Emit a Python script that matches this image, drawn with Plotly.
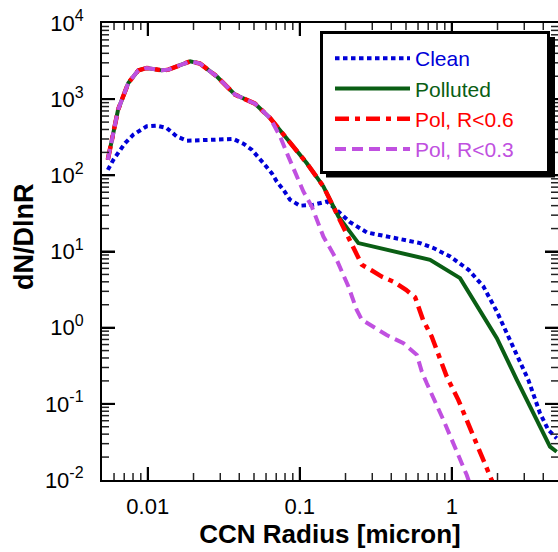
import math
import plotly.graph_objects as go

# ---- data ----
radius_clean = [0.00546, 0.00594, 0.0071, 0.00804, 0.00985, 0.01146, 0.0133, 0.0155, 0.0181, 0.0257,
                0.0366, 0.0426, 0.0483, 0.0576, 0.0654, 0.0706, 0.078, 0.0863, 0.1005, 0.123, 0.151,
                0.184, 0.214, 0.276, 0.393, 0.618, 0.757, 0.975, 1.29, 1.615, 1.98, 2.42, 2.81, 3.19,
                3.81, 4.32, 4.9]
dn_clean = [118, 160, 266, 342, 440, 449, 419, 324, 285, 288,
            300, 260, 217, 145, 107, 83, 64.7, 47.8, 39.9, 41.1, 45.4,
            32, 24.3, 17.8, 15.5, 12.9, 11.1, 8.6, 5.75, 3.47, 1.63, 0.69, 0.358, 0.206,
            0.075, 0.0454, 0.0353]

radius_pol = [0.00546, 0.00638, 0.00745, 0.00867, 0.00985, 0.01236, 0.01367, 0.0155, 0.019, 0.0221,
              0.0284, 0.0375, 0.0448, 0.0508, 0.0638, 0.0864, 0.111, 0.143, 0.1795, 0.243, 0.393,
              0.559, 0.72, 1.134, 1.536, 1.98, 2.68, 3.11, 4.43, 4.9]
dn_pol = [160, 728, 1633, 2390, 2570, 2390, 2440, 2700, 3140, 2925,
          1995, 1146, 985, 873, 566, 265, 145, 71.5, 28.8, 12.9, 10.3,
          8.77, 7.78, 4.47, 1.71, 0.728, 0.206, 0.112, 0.0274, 0.0235]

radius_r06 = [0.00546, 0.00638, 0.00745, 0.00867, 0.00985, 0.01236, 0.01367, 0.0155, 0.019, 0.0221,
              0.0284, 0.0375, 0.0448, 0.0508, 0.0638, 0.0864, 0.111, 0.143, 0.1795, 0.214, 0.256,
              0.298, 0.346, 0.412, 0.5, 0.574, 0.647, 0.738, 0.927, 1.106, 1.387, 1.83, 2.0]
dn_r06 = [160, 728, 1633, 2390, 2570, 2390, 2440, 2700, 3140, 2925,
          1995, 1146, 985, 873, 566, 265, 145, 71.5, 28.8, 13.5, 6.7,
          5.62, 4.69, 4.03, 3.14, 2.51, 1.27, 0.764, 0.228, 0.112, 0.037, 0.01, 0.0072]

radius_r03 = [0.00546, 0.00638, 0.00745, 0.00867, 0.00985, 0.01236, 0.01367, 0.0155, 0.019, 0.0221,
              0.0284, 0.0375, 0.0448, 0.0508, 0.0638, 0.0742, 0.0841, 0.1056, 0.12, 0.143, 0.175,
              0.209, 0.237, 0.256, 0.373, 0.481, 0.589, 0.635, 0.685, 0.881, 1.255, 1.3]
dn_r03 = [160, 728, 1633, 2390, 2570, 2390, 2440, 2700, 3140, 2925,
          1995, 1146, 985, 873, 566, 324, 177, 61.4, 39, 15.7, 7.78,
          3.47, 1.71, 1.27, 0.80, 0.625, 0.44, 0.265, 0.186, 0.0615, 0.0116, 0.0095]

series_names = ["Clean", "Polluted", "Pol, R<0.6", "Pol, R<0.3"]
series_colors = ["#0000d8", "#0a5e14", "#ff0000", "#c050e0"]

x_tickvals = [0.01, 0.1, 1]
x_ticktext = ["0.01", "0.1", "1"]
y_exponents = [-2, -1, 0, 1, 2, 3, 4]
x_title = "CCN Radius [micron]"
y_title = "dN/DlnR"

FONT = "Liberation Sans, Arial, sans-serif"

# figure geometry (pixels)
W, H = 558, 552
ML, MR, MT, MB = 102, 0, 23, 72
PW, PH = W - ML - MR, H - MT - MB
XRANGE = [math.log10(0.005), math.log10(5)]
YRANGE = [-2, 4]


def px(xp):
    return (xp - ML) / PW


def py(yp):
    return (H - MB - yp) / PH


def fx(v):
    return (math.log10(v) - XRANGE[0]) / (XRANGE[1] - XRANGE[0])


def fy(v):
    return (math.log10(v) - YRANGE[0]) / (YRANGE[1] - YRANGE[0])


fig = go.Figure()
styles = [
    dict(width=4, dash="4.5px,3.5px"),
    dict(width=4),
    dict(width=4.5, dash="14px,6px,5px,6px"),
    dict(width=4, dash="11px,6px"),
]
xs = [radius_clean, radius_pol, radius_r06, radius_r03]
ys = [dn_clean, dn_pol, dn_r06, dn_r03]
for i in range(4):
    fig.add_trace(go.Scatter(
        x=xs[i], y=ys[i], mode="lines",
        name=f"<span style='color:{series_colors[i]}'>{series_names[i]}</span>",
        line=dict(color=series_colors[i], **styles[i]),
    ))

# ---- inward tick marks on all four sides (major + minor) ----
x_minor = [m * 10.0 ** e for e in range(-3, 1) for m in range(2, 10)]
y_minor = [m * 10.0 ** e for e in range(-2, 4) for m in range(2, 10)]
y_major = [10.0 ** e for e in y_exponents]

tick_shapes = []


def add_tick(orient, f, length_px, width, color):
    if not (1e-3 < f < 1 - 1e-3):
        return
    ln = dict(color=color, width=width)
    if orient == "x":
        L = length_px / PH
        for base, sgn in ((0.0, 1), (1.0, -1)):
            tick_shapes.append(dict(type="line", xref="paper", yref="paper", layer="above",
                                    x0=f, x1=f, y0=base, y1=base + sgn * L, line=ln))
    else:
        L = length_px / PW
        for base, sgn in ((0.0, 1), (1.0, -1)):
            tick_shapes.append(dict(type="line", xref="paper", yref="paper", layer="above",
                                    x0=base, x1=base + sgn * L, y0=f, y1=f, line=ln))


for v in x_minor:
    add_tick("x", fx(v), 7, 1.5, "#222")
for v in x_tickvals:
    add_tick("x", fx(v), 13, 2, "black")
for v in y_minor:
    add_tick("y", fy(v), 7, 1.5, "#222")
for v in y_major:
    add_tick("y", fy(v), 13, 2, "black")

# legend box with drop shadow
box_shapes = [
    dict(type="rect", xref="paper", yref="paper", layer="above",
         x0=px(326), x1=px(555), y0=py(177.5), y1=py(37),
         fillcolor="black", line=dict(width=0)),
    dict(type="rect", xref="paper", yref="paper", layer="above",
         x0=px(321.5), x1=px(548.5), y0=py(172.5), y1=py(32.5),
         fillcolor="white", line=dict(color="black", width=3)),
]

axis_common = dict(
    type="log", showgrid=False, automargin=False, zeroline=False,
    showline=True, linecolor="black", linewidth=2, mirror="allticks",
    ticks="inside", ticklen=13, tickwidth=2, tickcolor="black",
    tickfont=dict(family=FONT, size=22, color="black"),
    tickmode="array",
)

fig.update_layout(
    xaxis=dict(**axis_common, range=XRANGE, tickvals=x_tickvals, ticktext=x_ticktext,
               ticklabelstandoff=6,
               title=dict(text=f"<b>{x_title}</b>", font=dict(family=FONT, size=26, color="black"), standoff=6)),
    yaxis=dict(**axis_common, range=YRANGE,
               tickvals=y_major,
               ticktext=[f"10<sup><span style='font-size:16px'>{e}</span></sup>" for e in y_exponents],
               ticklabelstandoff=12),
    shapes=tick_shapes + box_shapes,
    annotations=[dict(text=f"<b>{y_title}</b>", xref="paper", yref="paper",
                      x=px(24), y=py(237), xanchor="center", yanchor="middle",
                      textangle=-90, showarrow=False,
                      font=dict(family=FONT, size=27, color="black"))],
    width=W, height=H,
    margin=dict(l=ML, r=MR, t=MT, b=MB),
    paper_bgcolor="white", plot_bgcolor="white",
    showlegend=True,
    legend=dict(
        x=px(330), y=py(38), xanchor="left", yanchor="top",
        bgcolor="rgba(0,0,0,0)", borderwidth=0,
        font=dict(family=FONT, size=21),
        itemwidth=75, tracegroupgap=0,
    ),
)

fig.write_html("out.html")
